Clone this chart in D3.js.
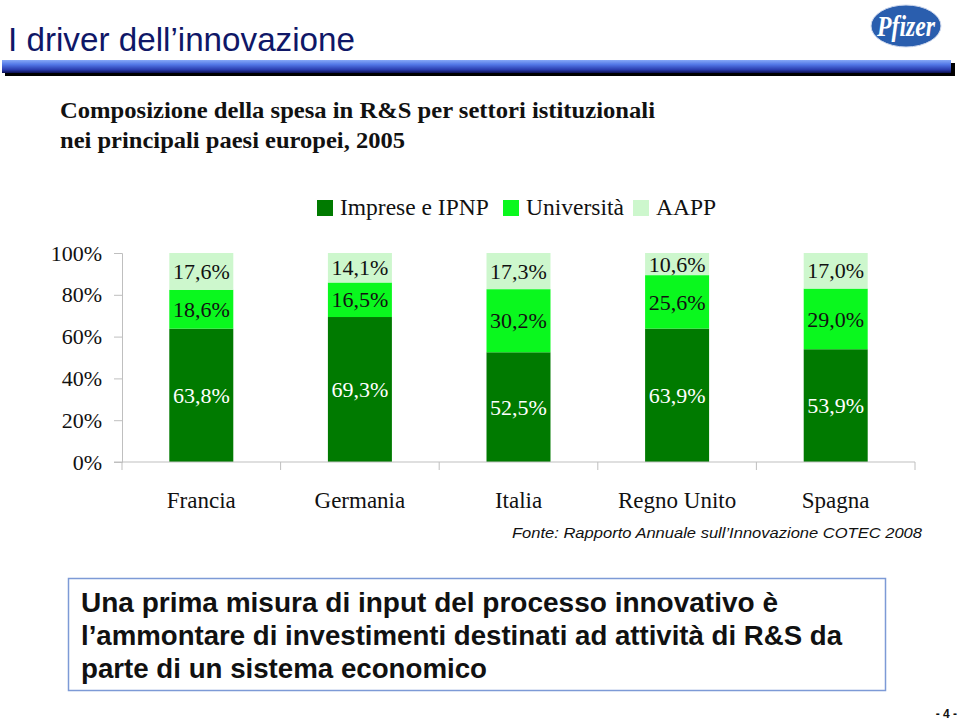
<!DOCTYPE html>
<html><head><meta charset="utf-8">
<script src="https://cdn.jsdelivr.net/npm/d3@7"></script>
<style>body{margin:0;background:#fff}svg{display:block}</style>
</head><body>
<svg id="c" width="960" height="721"></svg>
<script>
const categories = ["Francia","Germania","Italia","Regno Unito","Spagna"];
const series = ["Imprese e IPNP","Università","AAPP"];
const imprese = [63.8, 69.3, 52.5, 63.9, 53.9];
const universita = [18.6, 16.5, 30.2, 25.6, 29.0];
const aapp = [17.6, 14.1, 17.3, 10.6, 17.0];
const yTicks = [0, 0.2, 0.4, 0.6, 0.8, 1.0];
const colors = ["#007a00", "#0af81e", "#cdf7cd"];
const labelColors = ["#ffffff", "#111111", "#111111"];

const rows = categories.map((c,i)=>({cat:c, "Imprese e IPNP":imprese[i], "Università":universita[i], "AAPP":aapp[i]}));
const svg = d3.select("#c");
const SERIF = "'Liberation Serif', 'Times New Roman', serif";
const SANS = "'Liberation Sans', Arial, sans-serif";

// header
svg.append("text").attr("x",8).attr("y",51).attr("font-family",SANS)
  .attr("font-size",34).attr("fill","#0f1767").attr("textLength",347).attr("lengthAdjust","spacingAndGlyphs")
  .text("I driver dell’innovazione");
const defs = svg.append("defs");
const g1 = defs.append("linearGradient").attr("id","bar").attr("x1",0).attr("y1",0).attr("x2",0).attr("y2",1);
g1.append("stop").attr("offset","0%").attr("stop-color","#86a8f7");
g1.append("stop").attr("offset","35%").attr("stop-color","#5277e6");
g1.append("stop").attr("offset","75%").attr("stop-color","#2a3cae");
g1.append("stop").attr("offset","100%").attr("stop-color","#0c0f50");
svg.append("rect").attr("x",5).attr("y",63).attr("width",950).attr("height",13).attr("fill","#000");
svg.append("rect").attr("x",2).attr("y",60).attr("width",949).attr("height",13).attr("fill","url(#bar)");
// logo
svg.append("ellipse").attr("cx",906).attr("cy",26).attr("rx",35).attr("ry",21).attr("fill","#2a5eae").attr("stroke","#cfd9ee").attr("stroke-width",1);
svg.append("text").attr("x",906).attr("y",36).attr("text-anchor","middle").attr("font-family",SERIF)
  .attr("font-style","italic").attr("font-weight","bold").attr("font-size",30).attr("fill","#fff")
  .attr("textLength",58).attr("lengthAdjust","spacingAndGlyphs").text("Pfizer");

// subtitle
const sub = [["Composizione della spesa in R&S per settori istituzionali",118,595],["nei principali paesi europei, 2005",148,345]];
sub.forEach(s=>svg.append("text").attr("x",60).attr("y",s[1]).attr("font-family",SERIF)
  .attr("font-weight","bold").attr("font-size",23).attr("fill","#111").attr("textLength",s[2]).attr("lengthAdjust","spacingAndGlyphs").text(s[0]));

// legend
const legX = [317, 503, 633];
series.forEach((s,i)=>{
  svg.append("rect").attr("x",legX[i]).attr("y",200).attr("width",16).attr("height",16).attr("fill",colors[i]);
  svg.append("text").attr("x",legX[i]+23).attr("y",215).attr("font-family",SERIF).attr("font-size",23.5).attr("fill","#111").text(s);
});

// scales
const x = d3.scaleBand().domain(categories).range([122,915]).paddingInner(0.5965).paddingOuter(0.5965/2);
const y = d3.scaleLinear().domain([0,1]).range([462,253]);
const stack = d3.stack().keys(series).offset(d3.stackOffsetExpand);
const layers = stack(rows);

const yAxis = svg.append("g").attr("transform","translate(122,0)")
  .call(d3.axisLeft(y).tickValues(yTicks).tickSize(8).tickPadding(12).tickFormat(d=>Math.round(d*100)+"%"));
yAxis.selectAll("line,path").attr("stroke","#bfbfbf");
yAxis.selectAll("text").attr("font-family",SERIF).attr("font-size",22).attr("fill","#111");

// bars
layers.forEach((L,li)=>{
  svg.append("g").selectAll("rect").data(L).join("rect")
    .attr("x",d=>x(d.data.cat)).attr("width",x.bandwidth())
    .attr("y",d=>y(d[1])).attr("height",d=>y(d[0])-y(d[1])).attr("fill",colors[li]);
  svg.append("g").selectAll("text").data(L).join("text")
    .attr("x",d=>x(d.data.cat)+x.bandwidth()/2).attr("y",d=>(y(d[0])+y(d[1]))/2).attr("dy","0.35em")
    .attr("text-anchor","middle").attr("font-family",SERIF).attr("font-size",22)
    .attr("fill",labelColors[li])
    .text(d=>d.data[series[li]].toFixed(1).replace(".",",")+"%");
});

// x axis
const xAxis = svg.append("g").attr("transform","translate(0,462)");
xAxis.append("line").attr("x1",114).attr("x2",915).attr("stroke","#bfbfbf");
const bounds = categories.map(c=>x(c)-(x.step()-x.bandwidth())/2).concat([x(categories[4])+x.bandwidth()+(x.step()-x.bandwidth())/2]);
xAxis.selectAll("line.t").data(bounds).join("line").attr("class","t").attr("x1",d=>d).attr("x2",d=>d).attr("y1",0).attr("y2",8).attr("stroke","#bfbfbf");
xAxis.selectAll("text").data(categories).join("text").attr("x",c=>x(c)+x.bandwidth()/2).attr("y",46)
  .attr("text-anchor","middle").attr("font-family",SERIF).attr("font-size",23).attr("fill","#111").text(c=>c);

// source
svg.append("text").attr("x",512).attr("y",538).attr("font-family",SANS).attr("font-style","italic")
  .attr("font-size",15.5).attr("fill","#111").attr("textLength",410).attr("lengthAdjust","spacingAndGlyphs")
  .text("Fonte: Rapporto Annuale sull’Innovazione COTEC 2008");

// box
svg.append("rect").attr("x",68.5).attr("y",578.5).attr("width",817).attr("height",112).attr("fill","none").attr("stroke","#7d9ad6").attr("stroke-width",1.5);
const lines = [["Una prima misura di input del processo innovativo è",612,697],["l’ammontare di investimenti destinati ad attività di R&S da",645,761],["parte di un sistema economico",678,406]];
lines.forEach(l=>svg.append("text").attr("x",81).attr("y",l[1]).attr("font-family",SANS).attr("font-weight","bold")
  .attr("font-size",27.5).attr("fill","#111").attr("textLength",l[2]).attr("lengthAdjust","spacingAndGlyphs").text(l[0]));

svg.append("text").attr("x",957).attr("y",718).attr("text-anchor","end").attr("font-family",SANS)
  .attr("font-weight","bold").attr("font-size",12).attr("fill","#111").text("- 4 -");
</script>
</body></html>
